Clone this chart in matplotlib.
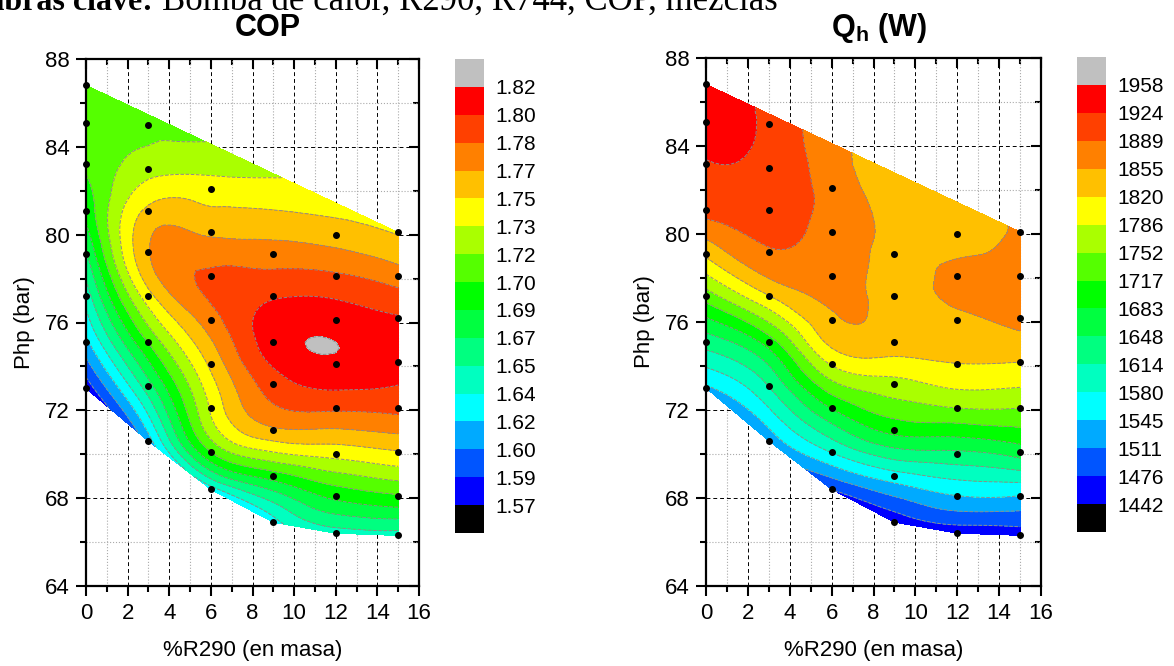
import numpy as np
import matplotlib
matplotlib.use('Agg')
import matplotlib.pyplot as plt
import matplotlib.tri as mtri
from matplotlib.colors import ListedColormap, BoundaryNorm
from matplotlib.ticker import MultipleLocator

plt.rcParams['font.family'] = ['Liberation Sans', 'DejaVu Sans']
plt.rcParams['mathtext.fontset'] = 'custom'
plt.rcParams['mathtext.rm'] = 'Liberation Sans'
plt.rcParams['mathtext.bf'] = 'Liberation Sans:bold'

# % R290 (mass) of each measured column
r290 = [0, 3, 6, 9, 12, 15]

# high pressure (bar) of the points in each column
php_r0 = [86.8, 85.1, 83.2, 81.1, 79.1, 77.2, 75.1, 73.0]
php_r3 = [85.0, 83.0, 81.1, 79.2, 77.2, 75.1, 73.1, 70.6]
php_r6 = [82.1, 80.1, 78.1, 76.1, 74.1, 72.1, 70.1, 68.4]
php_r9 = [79.1, 77.2, 75.1, 73.2, 71.1, 69.0, 66.9]
php_r12 = [80.0, 78.1, 76.1, 74.1, 72.1, 70.0, 68.1, 66.4]
php_r15 = [80.1, 78.1, 76.2, 74.2, 72.1, 70.1, 68.1, 66.3]

# COP at each point
cop_r0 = [1.703, 1.712, 1.705, 1.690, 1.666, 1.643, 1.615, 1.576]
cop_r3 = [1.712, 1.728, 1.755, 1.767, 1.745, 1.703, 1.662, 1.612]
cop_r6 = [1.742, 1.765, 1.787, 1.777, 1.755, 1.737, 1.702, 1.628]
cop_r9 = [1.776, 1.799, 1.8095, 1.793, 1.765, 1.693, 1.630]
cop_r12 = [1.760, 1.787, 1.811, 1.8145, 1.787, 1.740, 1.690, 1.645]
cop_r15 = [1.750, 1.776, 1.802, 1.806, 1.789, 1.750, 1.700, 1.645]

# heating capacity Qh (W) at each point
qh_r0 = [1952, 1950, 1921, 1900, 1827, 1735, 1630, 1540]
qh_r3 = [1915, 1912, 1905, 1886, 1820, 1700, 1615, 1525]
qh_r6 = [1876, 1875, 1868, 1850, 1790, 1685, 1582, 1478]
qh_r9 = [1848, 1847, 1838, 1775, 1695, 1565, 1455]
qh_r12 = [1838, 1862, 1850, 1820, 1752, 1640, 1545, 1455]
qh_r15 = [1865, 1868, 1866, 1821, 1752, 1665, 1545, 1458]

# colour scale labels
cop_labels = ['1.57', '1.59', '1.60', '1.62', '1.64', '1.65', '1.67', '1.69',
              '1.70', '1.72', '1.73', '1.75', '1.77', '1.78', '1.80', '1.82']
qh_labels = ['1442', '1476', '1511', '1545', '1580', '1614', '1648', '1683',
             '1717', '1752', '1786', '1820', '1855', '1889', '1924', '1958']
cop_levels = 1.5698 + 0.0165 * np.arange(16)
qh_levels = 1442 + 34.4 * np.arange(16)

band_colors = ['#0000FF', '#0055FF', '#00AAFF', '#00FFFF', '#00FFC0', '#00FF80',
               '#00FF40', '#00FF00', '#55FF00', '#AAFF00', '#FFFF00', '#FFC000',
               '#FF8000', '#FF4000', '#FF0000']

php_cols = [php_r0, php_r3, php_r6, php_r9, php_r12, php_r15]
x = np.concatenate([[r] * len(p) for r, p in zip(r290, php_cols)]).astype(float)
y = np.concatenate(php_cols)
cop = np.concatenate([cop_r0, cop_r3, cop_r6, cop_r9, cop_r12, cop_r15])
qh = np.concatenate([qh_r0, qh_r3, qh_r6, qh_r9, qh_r12, qh_r15]).astype(float)

cmap = ListedColormap(band_colors)
cmap.set_under('black')
cmap.set_over('#C0C0C0')

fig = plt.figure(figsize=(11.74, 6.66), dpi=100)

# cropped line of the document above the figure
fig.text(153 / 1174, 1 - 10 / 666, 'Palabras clave:', fontsize=23, family='Liberation Serif',
         fontweight='bold', ha='right', va='baseline')
fig.text(162 / 1174, 1 - 10 / 666, 'Bomba de calor, R290, R744, COP, mezclas', fontsize=25,
         family='Liberation Serif', ha='left', va='baseline')


def panel(rect, crect, z, levels, labels, title, tx):
    ax = fig.add_axes(rect)
    tri = mtri.Triangulation(x, y)
    refiner = mtri.UniformTriRefiner(tri)
    tri2, z2 = refiner.refine_field(z, subdiv=3)
    norm = BoundaryNorm(levels, cmap.N)
    cs = ax.tricontourf(tri2, z2, levels=levels, cmap=cmap, norm=norm, extend='both', zorder=1)
    ax.tricontour(tri2, z2, levels=levels, colors='#8c8c8c', linewidths=0.7,
                  linestyles='--', zorder=2)
    ax.scatter(x, y, s=16, color='black', zorder=4, clip_on=False)

    ax.set_xlim(0, 16)
    ax.set_ylim(64, 88)
    ax.xaxis.set_major_locator(MultipleLocator(2))
    ax.xaxis.set_minor_locator(MultipleLocator(1))
    ax.yaxis.set_major_locator(MultipleLocator(4))
    ax.yaxis.set_minor_locator(MultipleLocator(2))
    ax.set_axisbelow(True)
    ax.grid(which='major', color='black', linestyle=(0, (4, 3)), linewidth=0.7)
    ax.grid(which='minor', color='#aaaaaa', linestyle=':', linewidth=0.8)
    for s in ax.spines.values():
        s.set_linewidth(1.6)
        s.set_zorder(5)
    ax.tick_params(which='both', direction='out', top=False, right=False, width=1.5,
                   labelsize=16, pad=5)
    ax.tick_params(which='major', length=7)
    ax.tick_params(which='minor', length=4)
    sec_x = ax.secondary_xaxis('top')
    sec_y = ax.secondary_yaxis('right')
    for sec in (sec_x, sec_y):
        sec.tick_params(which='both', direction='in', width=1.5, labelsize=0)
        sec.tick_params(which='major', length=7)
        sec.tick_params(which='minor', length=4)
        sec.spines[:].set_visible(False)
    sec_x.xaxis.set_major_locator(MultipleLocator(2))
    sec_x.xaxis.set_minor_locator(MultipleLocator(1))
    sec_x.set_xticklabels([])
    sec_y.yaxis.set_major_locator(MultipleLocator(4))
    sec_y.yaxis.set_minor_locator(MultipleLocator(2))
    sec_y.set_yticklabels([])

    ax.set_xlabel('%R290 (en masa)', fontsize=16, labelpad=12)
    ax.set_ylabel('Php (bar)', fontsize=16, labelpad=7)
    fig.text(tx, 1 - 28 / 666, title, fontsize=22, fontweight='bold', ha='center', va='center')

    cax = fig.add_axes(crect)
    cb = fig.colorbar(cs, cax=cax, ticks=levels, extendrect=True, extendfrac=1 / 15)
    cb.outline.set_visible(False)
    cb.ax.set_yticklabels(labels)
    cb.ax.tick_params(length=0, labelsize=15, pad=8)
    return ax


panel([86 / 1174, 80 / 666, 333 / 1174, 527 / 666], [455 / 1174, 133 / 666, 29 / 1174, 474 / 666],
      cop, cop_levels, cop_labels, 'COP', 268 / 1174)
panel([706 / 1174, 80 / 666, 335 / 1174, 528 / 666], [1077 / 1174, 134 / 666, 29 / 1174, 475 / 666],
      qh, qh_levels, qh_labels, r'$\mathbf{Q_h}$ (W)', 879 / 1174)

fig.savefig('out.png', dpi=100)
